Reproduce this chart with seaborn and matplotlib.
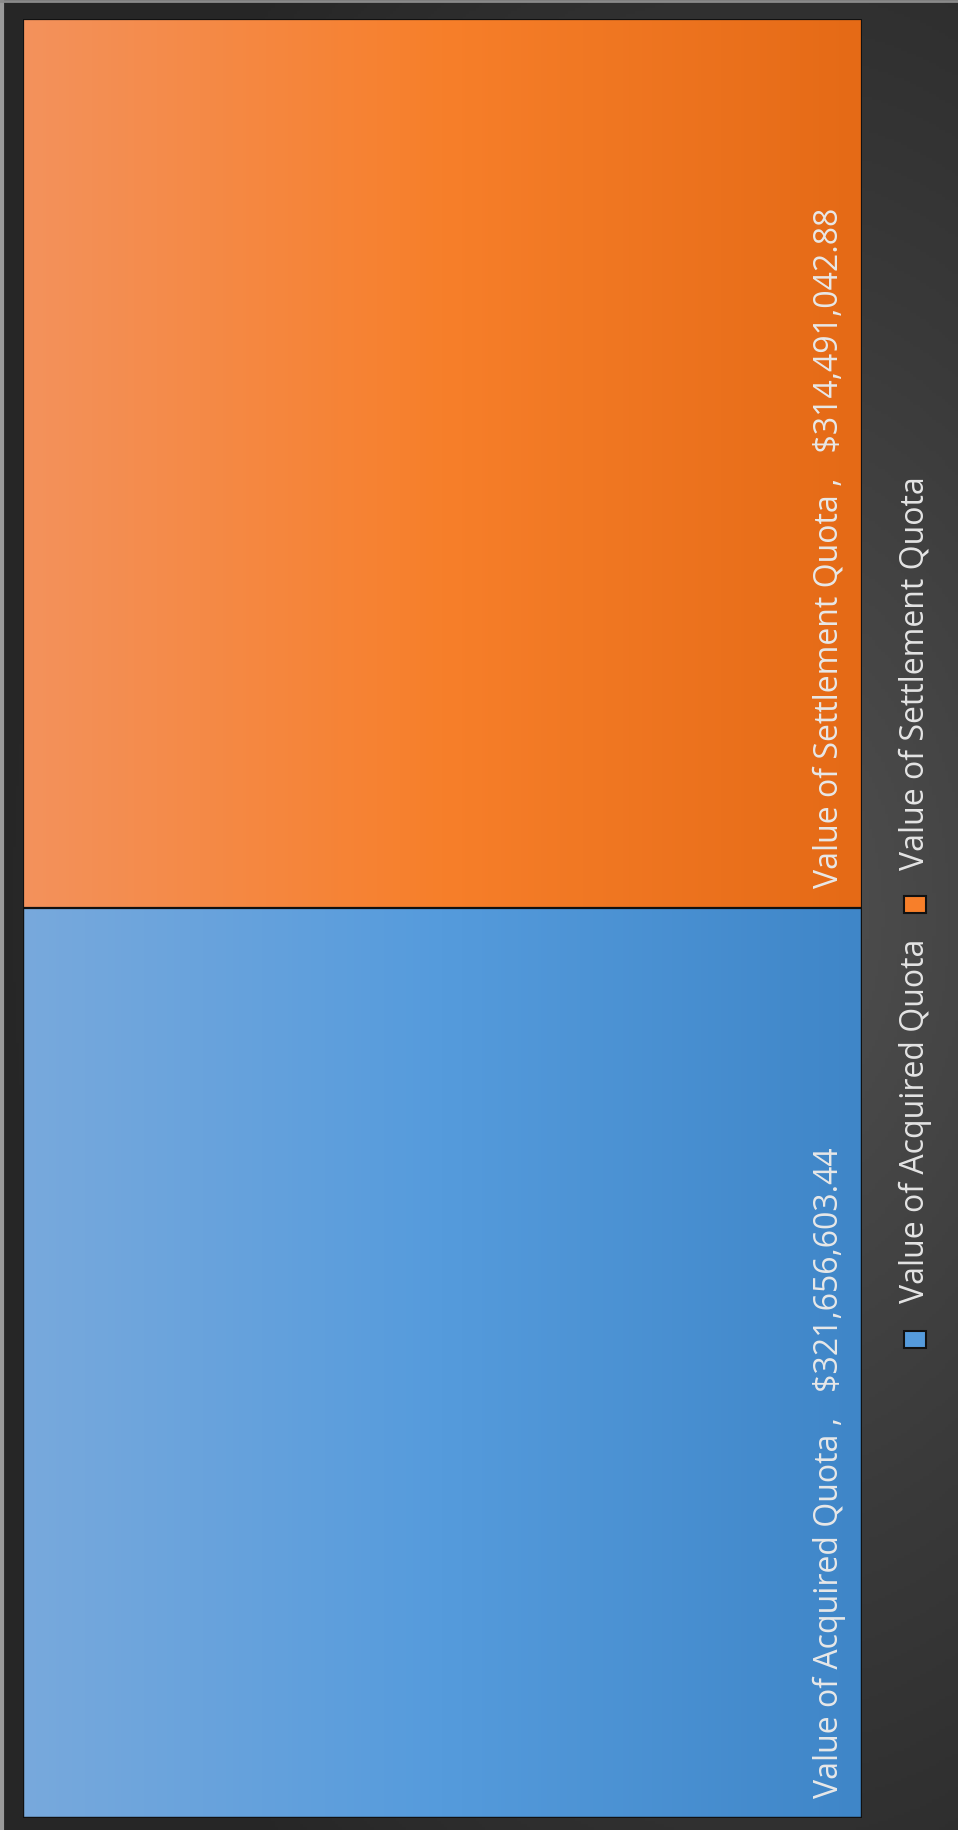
import matplotlib
matplotlib.use("Agg")
import matplotlib.pyplot as plt
import seaborn as sns
import numpy as np
import pandas as pd
from matplotlib.colors import LinearSegmentedColormap
from matplotlib.patches import Rectangle

# data
categories = ["Value of Acquired Quota", "Value of Settlement Quota"]
values = [321656603.44, 314491042.88]
light_cols = ["#78a9dc", "#f3925c"]
mid_cols = ["#559bdc", "#f77f2a"]
dark_cols = ["#3f86c8", "#e56a16"]

sns.set_theme(style="white")
plt.rcParams["font.family"] = ["Open Sans", "DejaVu Sans"]

W, H = 958, 1831
fig = plt.figure(figsize=(W / 100, H / 100), dpi=100)

# dark radial background
bg = fig.add_axes([0, 0, 1, 1], zorder=0)
yy, xx = np.mgrid[0:1:600j, 0:1:300j]
r = np.sqrt(((xx - 0.8) / 0.9) ** 2 + ((yy - 0.5) / 0.75) ** 2)
bg_cmap = LinearSegmentedColormap.from_list("bg", ["#515151", "#3a3a3a", "#262626"])
bg.imshow(r, cmap=bg_cmap, extent=[0, 1, 0, 1], aspect="auto", vmin=0, vmax=0.9)
bg.plot([0.002, 0.002], [0, 1], color="#9a9a9a", lw=3)
bg.plot([0, 1], [0.999, 0.999], color="#8a8a8a", lw=2)
bg.set_xlim(0, 1)
bg.set_ylim(0, 1)
bg.axis("off")

ax = fig.add_axes([23 / W, 1 - 1819 / H, (862 - 23) / W, (1819 - 20) / H], zorder=1)
ax.patch.set_alpha(0)

df = pd.DataFrame({"group": ["Quota", "Quota"], "series": categories, "value": values})
total = df["value"].sum()

# stacked column: total first, then the lower segment on top of it
sns.barplot(x=["Quota"], y=[total], color=mid_cols[1], width=1, ax=ax)
sns.barplot(x=["Quota"], y=[df["value"].iloc[0]], color=mid_cols[0], width=1, ax=ax)

grad = np.linspace(0, 1, 256).reshape(1, -1)
bottoms = [0, values[0]]
for i, p in enumerate(ax.patches[::-1]):
    # patches[::-1] -> blue (index 0), orange total (index 1)
    x0, y0, w, h = p.get_x(), p.get_y(), p.get_width(), p.get_height()
    cm = LinearSegmentedColormap.from_list(f"g{i}", [light_cols[i], mid_cols[i], dark_cols[i]])
    im = ax.imshow(grad, cmap=cm, extent=[x0, x0 + w, y0, y0 + h], aspect="auto",
                   zorder=3 - i)
    im.set_clip_path(p)
    p.set_facecolor("none")
    p.set_edgecolor("#111111")
    p.set_linewidth(1.6)
    p.set_zorder(5)

    label = f"{categories[i]} ,   ${values[i]:,.2f}"
    ax.annotate(label, xy=(x0 + w, bottoms[i]), xytext=(-33, 21),
                textcoords="offset pixels", rotation=90, ha="center", va="bottom",
                color="#e8e8e8", fontsize=23, zorder=6)

ax.set_xlim(-0.5, 0.5)
ax.set_ylim(0, total)
ax.axis("off")

# legend drawn vertically (chart is rotated)
leg_x = 915
swatch_y = [1340, 905]
text_bottom = [1303, 870]
for i in range(2):
    sw, sh = 22, 17
    fig.patches.append(Rectangle(((leg_x - sw / 2) / W, 1 - (swatch_y[i] + sh / 2) / H), sw / W, sh / H,
                                 transform=fig.transFigure, facecolor=mid_cols[i],
                                 edgecolor="#111111", lw=1.5, zorder=5))
    fig.text(leg_x / W, 1 - text_bottom[i] / H, categories[i], rotation=90,
             ha="center", va="bottom", color="#e4e4e4", fontsize=23, zorder=5)

fig.savefig("out.png", dpi=100)
